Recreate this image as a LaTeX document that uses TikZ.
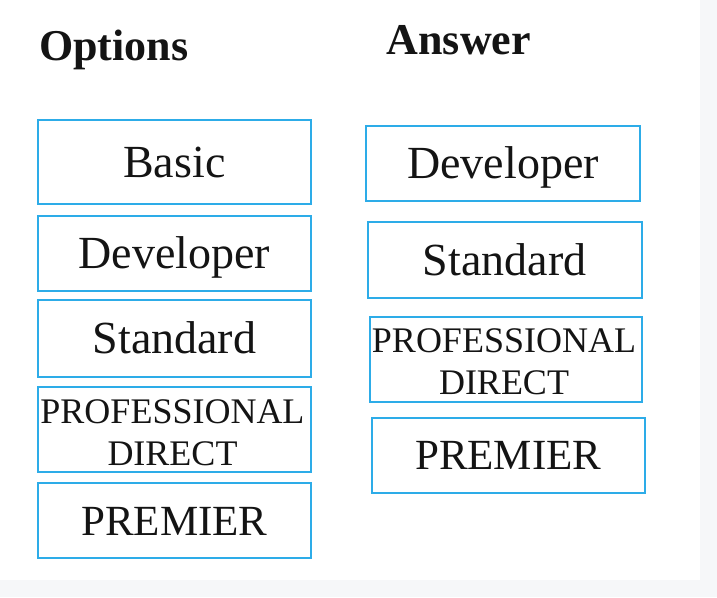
\documentclass[tikz,border=0pt]{standalone}
\usepackage{fontspec}
\setmainfont{Liberation Serif}
\definecolor{boxblue}{RGB}{45,172,232}
\definecolor{pagegray}{RGB}{246,247,249}
\definecolor{inkblack}{RGB}{20,20,20}

\tikzstyle{optbox}=[minimum width=272.5pt, shape=rectangle, align=center, draw=boxblue, line width=2pt, inner sep=0pt, text=inkblack, font=\fontsize{46}{50}\selectfont, text height=31.7pt, text depth=1.4pt]
\tikzstyle{longbox}=[minimum width=272.5pt, shape=rectangle, draw=boxblue, line width=2pt, inner sep=0pt]
\tikzstyle{longtext}=[align=center, inner sep=0pt, text=inkblack, font=\fontsize{36}{42}\selectfont]
\tikzstyle{premierbox}=[optbox, font=\fontsize{43}{48}\selectfont, text height=29.7pt, text depth=1.3pt]
\tikzstyle{heading}=[anchor=base west, inner sep=0pt, text=inkblack, font=\fontsize{44}{48}\selectfont\bfseries]

\begin{document}
\begin{tikzpicture}[x=1pt,y=-1pt]
        \fill[pagegray] (0,0) rectangle (717,597);
        \fill[white] (0,0) rectangle (700,580);
        \useasboundingbox (0,0) rectangle (717,597);
        \node[heading] at (39,60) (optionshead) {Options};
        \node[heading] at (386.5,54) (answerhead) {Answer};
        % options column
        \node[optbox, minimum height=84pt] at (174.4,162) (basic) {Basic};
        \node[optbox, minimum height=74.7pt] at (174.4,253.3) (developer) {Developer};
        \node[optbox, minimum height=76.7pt] at (174.4,338.3) (standard) {Standard};
        \node[longbox, minimum height=84.7pt] at (174.4,429.3) (profdirect) {};
        \node[longtext] at (172.5,432.5) (profdirectlabel) {PROFESSIONAL\\DIRECT};
        \node[premierbox, minimum height=75pt] at (174.4,520.8) (premier) {PREMIER};
        % answer column
        \node[optbox, minimum height=74.7pt, minimum width=273.4pt] at (503,163.3) (ansdeveloper) {Developer};
        \node[optbox, minimum height=76.6pt, minimum width=274pt] at (504.7,260) (ansstandard) {Standard};
        \node[longbox, minimum height=84.7pt, minimum width=272.3pt] at (506.2,359.3) (ansprofdirect) {};
        \node[longtext] at (504,362.2) (ansprofdirectlabel) {PROFESSIONAL\\DIRECT};
        \node[premierbox, minimum height=75.3pt, minimum width=272.7pt] at (508.3,455.3) (anspremier) {PREMIER};
    \end{tikzpicture}
\end{document}
